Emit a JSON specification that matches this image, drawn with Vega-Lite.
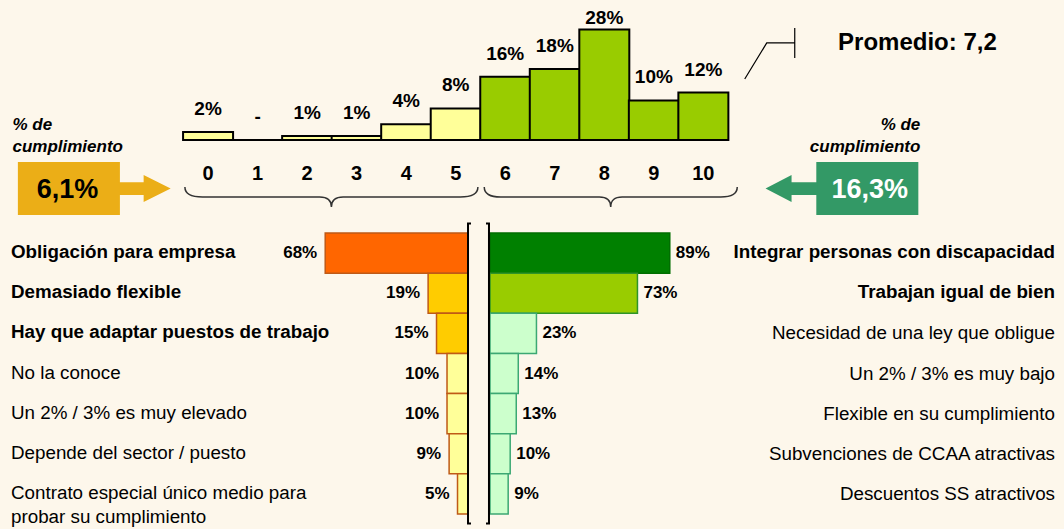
{
  "$schema": "https://vega.github.io/schema/vega-lite/v6.json",
  "background": "#FDF7EB",
  "padding": 0,
  "spacing": 0,
  "bounds": "flush",
  "config": {"view": {"stroke": null}, "text": {"font": "Liberation Sans", "fill": "#000000"}},
  "datasets": {
    "hist": [
      {"score": 0, "pct": 2, "etiqueta": "2%"},
      {"score": 1, "pct": 0, "etiqueta": "-"},
      {"score": 2, "pct": 1, "etiqueta": "1%"},
      {"score": 3, "pct": 1, "etiqueta": "1%"},
      {"score": 4, "pct": 4, "etiqueta": "4%"},
      {"score": 5, "pct": 8, "etiqueta": "8%"},
      {"score": 6, "pct": 16, "etiqueta": "16%"},
      {"score": 7, "pct": 18, "etiqueta": "18%"},
      {"score": 8, "pct": 28, "etiqueta": "28%"},
      {"score": 9, "pct": 10, "etiqueta": "10%"},
      {"score": 10, "pct": 12, "etiqueta": "12%"}
    ],
    "izq": [
      {"rank": 1, "texto": "Obligación para empresa", "pct": 68, "etiqueta": "68%"},
      {"rank": 2, "texto": "Demasiado flexible", "pct": 19, "etiqueta": "19%"},
      {"rank": 3, "texto": "Hay que adaptar puestos de trabajo", "pct": 15, "etiqueta": "15%"},
      {"rank": 4, "texto": "No la conoce", "pct": 10, "etiqueta": "10%"},
      {"rank": 5, "texto": "Un 2% / 3% es muy elevado", "pct": 10, "etiqueta": "10%"},
      {"rank": 6, "texto": "Depende del sector / puesto", "pct": 9, "etiqueta": "9%"},
      {"rank": 7, "texto": "Contrato especial único medio para\nprobar su cumplimiento", "pct": 5, "etiqueta": "5%"}
    ],
    "der": [
      {"rank": 1, "texto": "Integrar personas con discapacidad", "pct": 89, "etiqueta": "89%"},
      {"rank": 2, "texto": "Trabajan igual de bien", "pct": 73, "etiqueta": "73%"},
      {"rank": 3, "texto": "Necesidad de una ley que obligue", "pct": 23, "etiqueta": "23%"},
      {"rank": 4, "texto": "Un 2% / 3% es muy bajo", "pct": 14, "etiqueta": "14%"},
      {"rank": 5, "texto": "Flexible en su cumplimiento", "pct": 13, "etiqueta": "13%"},
      {"rank": 6, "texto": "Subvenciones de CCAA atractivas", "pct": 10, "etiqueta": "10%"},
      {"rank": 7, "texto": "Descuentos SS atractivos", "pct": 9, "etiqueta": "9%"}
    ]
  },
  "vconcat": [
    {
      "width": 1064,
      "height": 225,
      "data": {"name": "hist"},
      "layer": [
        {
          "mark": {"type": "bar", "width": 50, "stroke": "#000000", "strokeWidth": 2},
          "encoding": {
            "x": {"field": "score", "type": "quantitative", "scale": {"domain": [-4.1, 17.18], "nice": false, "zero": false}, "axis": null},
            "y": {"field": "pct", "type": "quantitative", "scale": {"domain": [-21.52, 35.44], "nice": false, "zero": false}, "axis": null},
            "y2": {"datum": 0},
            "color": {"condition": {"test": "datum.score <= 5", "value": "#FFFF99"}, "value": "#99CC00"}
          }
        },
        {
          "data": {"values": [{}]},
          "mark": {"type": "rule", "stroke": "#000000", "strokeWidth": 2},
          "encoding": {
            "x": {"datum": -0.5, "type": "quantitative"},
            "x2": {"datum": 10.5},
            "y": {"datum": 0, "type": "quantitative"}
          }
        },
        {
          "transform": [{"filter": "datum.pct < 25"}],
          "mark": {"type": "text", "fontSize": 19, "fontWeight": "bold", "baseline": "middle", "dy": -23},
          "encoding": {
            "x": {"field": "score", "type": "quantitative"},
            "y": {"field": "pct", "type": "quantitative"},
            "text": {"field": "etiqueta"}
          }
        },
        {
          "transform": [{"filter": "datum.pct >= 25"}],
          "mark": {"type": "text", "fontSize": 19, "fontWeight": "bold", "baseline": "middle", "dy": -11},
          "encoding": {
            "x": {"field": "score", "type": "quantitative"},
            "y": {"field": "pct", "type": "quantitative"},
            "text": {"field": "etiqueta"}
          }
        },
        {
          "mark": {"type": "text", "fontSize": 20, "fontWeight": "bold", "baseline": "middle"},
          "encoding": {
            "x": {"field": "score", "type": "quantitative"},
            "y": {"datum": -8.61, "type": "quantitative"},
            "text": {"field": "score", "type": "quantitative"}
          }
        },
        {
          "data": {"values": [{}]},
          "mark": {"type": "point", "shape": "M-1,-0.0683 Q-1,0 -0.88,0 L-0.08,0 Q0,0 0,0.0683 Q0,0 0.08,0 L0.88,0 Q1,0 1,-0.0683", "size": 85849, "filled": false, "stroke": "#333333", "strokeWidth": 1.5, "opacity": 1},
          "encoding": {"x": {"datum": 2.49, "type": "quantitative"}, "y": {"datum": -14.43, "type": "quantitative"}}
        },
        {
          "data": {"values": [{}]},
          "mark": {"type": "point", "shape": "M-1,-0.079 Q-1,0 -0.87,0 L-0.09,0 Q0,0 0,0.079 Q0,0 0.09,0 L0.87,0 Q1,0 1,-0.079", "size": 64009, "filled": false, "stroke": "#333333", "strokeWidth": 1.5, "opacity": 1},
          "encoding": {"x": {"datum": 8.13, "type": "quantitative"}, "y": {"datum": -14.43, "type": "quantitative"}}
        },
        {
          "data": {"values": [{}]},
          "mark": {"type": "rect", "fill": "#EBAE17"},
          "encoding": {"x": {"datum": -3.84, "type": "quantitative"}, "x2": {"datum": -1.78}, "y": {"datum": -5.57, "type": "quantitative"}, "y2": {"datum": -18.99}}
        },
        {
          "data": {"values": [{}]},
          "mark": {"type": "point", "shape": "M-1.05,-0.25 L-0.06,-0.25 L-0.06,-0.53 L1,0 L-0.06,0.53 L-0.06,0.25 L-1.05,0.25 Z", "size": 2601, "filled": true, "fill": "#EBAE17", "strokeWidth": 0, "opacity": 1},
          "encoding": {"x": {"datum": -1.27, "type": "quantitative"}, "y": {"datum": -12.28, "type": "quantitative"}}
        },
        {
          "data": {"values": [{}]},
          "mark": {"type": "text", "fontSize": 27, "fontWeight": "bold", "baseline": "middle", "text": "6,1%"},
          "encoding": {"x": {"datum": -2.84, "type": "quantitative"}, "y": {"datum": -12.66, "type": "quantitative"}}
        },
        {
          "data": {"values": [{}]},
          "mark": {"type": "rect", "fill": "#339966"},
          "encoding": {"x": {"datum": 12.28, "type": "quantitative"}, "x2": {"datum": 14.34}, "y": {"datum": -5.57, "type": "quantitative"}, "y2": {"datum": -18.99}}
        },
        {
          "data": {"values": [{}]},
          "mark": {"type": "point", "shape": "M1.05,-0.25 L0.02,-0.25 L0.02,-0.53 L-1,0 L0.02,0.53 L0.02,0.25 L1.05,0.25 Z", "size": 2601, "filled": true, "fill": "#339966", "strokeWidth": 0, "opacity": 1},
          "encoding": {"x": {"datum": 11.77, "type": "quantitative"}, "y": {"datum": -12.28, "type": "quantitative"}}
        },
        {
          "data": {"values": [{}]},
          "mark": {"type": "text", "fontSize": 27, "fontWeight": "bold", "baseline": "middle", "text": "16,3%", "fill": "#FFFFFF"},
          "encoding": {"x": {"datum": 13.36, "type": "quantitative"}, "y": {"datum": -12.66, "type": "quantitative"}}
        },
        {
          "data": {"values": [{}]},
          "mark": {"type": "text", "fontSize": 17, "fontWeight": "bold", "fontStyle": "italic", "baseline": "middle", "align": "left", "text": "% de"},
          "encoding": {"x": {"datum": -3.95, "type": "quantitative"}, "y": {"datum": 3.8, "type": "quantitative"}}
        },
        {
          "data": {"values": [{}]},
          "mark": {"type": "text", "fontSize": 17, "fontWeight": "bold", "fontStyle": "italic", "baseline": "middle", "align": "left", "text": "cumplimiento"},
          "encoding": {"x": {"datum": -3.95, "type": "quantitative"}, "y": {"datum": -1.77, "type": "quantitative"}}
        },
        {
          "data": {"values": [{}]},
          "mark": {"type": "text", "fontSize": 17, "fontWeight": "bold", "fontStyle": "italic", "baseline": "middle", "align": "right", "text": "% de"},
          "encoding": {"x": {"datum": 14.38, "type": "quantitative"}, "y": {"datum": 3.8, "type": "quantitative"}}
        },
        {
          "data": {"values": [{}]},
          "mark": {"type": "text", "fontSize": 17, "fontWeight": "bold", "fontStyle": "italic", "baseline": "middle", "align": "right", "text": "cumplimiento"},
          "encoding": {"x": {"datum": 14.38, "type": "quantitative"}, "y": {"datum": -1.77, "type": "quantitative"}}
        },
        {
          "data": {"values": [{}]},
          "mark": {"type": "text", "fontSize": 24, "fontWeight": "bold", "baseline": "middle", "align": "left", "text": "Promedio: 7,2"},
          "encoding": {"x": {"datum": 12.72, "type": "quantitative"}, "y": {"datum": 24.56, "type": "quantitative"}}
        },
        {
          "data": {"values": [{}]},
          "mark": {"type": "point", "shape": "M-1,1.04 L-0.12,-0.4 L1,-0.4 M1,-1 L1,0.2", "size": 2500, "filled": false, "stroke": "#000000", "strokeWidth": 1.2, "opacity": 1},
          "encoding": {"x": {"datum": 11.34, "type": "quantitative"}, "y": {"datum": 22.03, "type": "quantitative"}}
        }
      ]
    },
    {
      "width": 1064,
      "height": 304,
      "resolve": {"scale": {"x": "independent"}},
      "layer": [
        {
          "data": {"name": "izq"},
          "layer": [
            {
              "mark": {"type": "bar", "stroke": "#BF5A16", "strokeWidth": 1.5},
              "encoding": {
                "x": {"field": "pct", "type": "quantitative", "scale": {"domain": [-283.8, 222.86], "reverse": true, "nice": false, "zero": false}, "axis": null},
                "x2": {"datum": 0},
                "y": {"field": "rank", "type": "ordinal", "scale": {"paddingInner": 0, "paddingOuter": 0.2866, "align": 0.348}, "axis": null},
                "color": {"condition": [{"test": "datum.rank == 1", "value": "#FF6600"}, {"test": "datum.rank <= 3", "value": "#FFCC00"}], "value": "#FFFF99"}
              }
            },
            {
              "mark": {"type": "text", "fontSize": 17, "fontWeight": "bold", "baseline": "middle", "align": "right", "dx": -8},
              "encoding": {
                "x": {"field": "pct", "type": "quantitative"},
                "y": {"field": "rank", "type": "ordinal"},
                "text": {"field": "etiqueta"}
              }
            },
            {
              "transform": [{"filter": "datum.rank <= 3"}],
              "mark": {"type": "text", "fontSize": 18.8, "fontWeight": "bold", "baseline": "alphabetic", "align": "left", "dy": 5},
              "encoding": {
                "x": {"datum": 217.62, "type": "quantitative"},
                "y": {"field": "rank", "type": "ordinal"},
                "text": {"field": "texto"}
              }
            },
            {
              "transform": [{"filter": "datum.rank > 3"}],
              "mark": {"type": "text", "fontSize": 18.8, "baseline": "alphabetic", "align": "left", "dy": 5, "lineBreak": "\n", "lineHeight": 24},
              "encoding": {
                "x": {"datum": 217.62, "type": "quantitative"},
                "y": {"field": "rank", "type": "ordinal"},
                "text": {"field": "texto"}
              }
            },
            {
              "data": {"values": [{}]},
              "mark": {"type": "point", "shape": "M0.02,-1 L0,-1 L0,1 L0.02,1", "size": 90000, "filled": false, "stroke": "#000000", "strokeWidth": 2, "opacity": 1},
              "encoding": {"x": {"datum": 0, "type": "quantitative"}, "y": {"datum": 4, "type": "ordinal"}}
            }
          ]
        },
        {
          "data": {"name": "der"},
          "layer": [
            {
              "mark": {"type": "bar", "strokeWidth": 1.5},
              "encoding": {
                "x": {"field": "pct", "type": "quantitative", "scale": {"domain": [-242.57, 284.16], "nice": false, "zero": false}, "axis": null},
                "x2": {"datum": 0},
                "y": {"field": "rank", "type": "ordinal", "axis": null},
                "color": {"condition": [{"test": "datum.rank == 1", "value": "#008000"}, {"test": "datum.rank == 2", "value": "#99CC00"}], "value": "#CCFFCC"},
                "stroke": {"condition": [{"test": "datum.rank == 1", "value": "#006E00"}, {"test": "datum.rank == 2", "value": "#2E9428"}], "value": "#3CA873"}
              }
            },
            {
              "mark": {"type": "text", "fontSize": 17, "fontWeight": "bold", "baseline": "middle", "align": "left", "dx": 6},
              "encoding": {
                "x": {"field": "pct", "type": "quantitative"},
                "y": {"field": "rank", "type": "ordinal"},
                "text": {"field": "etiqueta"}
              }
            },
            {
              "transform": [{"filter": "datum.rank <= 2"}],
              "mark": {"type": "text", "fontSize": 18.8, "fontWeight": "bold", "baseline": "alphabetic", "align": "right", "dy": 5},
              "encoding": {
                "x": {"datum": 279.7, "type": "quantitative"},
                "y": {"field": "rank", "type": "ordinal"},
                "text": {"field": "texto"}
              }
            },
            {
              "transform": [{"filter": "datum.rank > 2"}],
              "mark": {"type": "text", "fontSize": 18.8, "baseline": "alphabetic", "align": "right", "dy": 6},
              "encoding": {
                "x": {"datum": 279.7, "type": "quantitative"},
                "y": {"field": "rank", "type": "ordinal"},
                "text": {"field": "texto"}
              }
            },
            {
              "data": {"values": [{}]},
              "mark": {"type": "point", "shape": "M-0.02,-1 L0,-1 L0,1 L-0.02,1", "size": 90000, "filled": false, "stroke": "#000000", "strokeWidth": 2, "opacity": 1},
              "encoding": {"x": {"datum": -0.5, "type": "quantitative"}, "y": {"datum": 4, "type": "ordinal"}}
            }
          ]
        }
      ]
    }
  ]
}
